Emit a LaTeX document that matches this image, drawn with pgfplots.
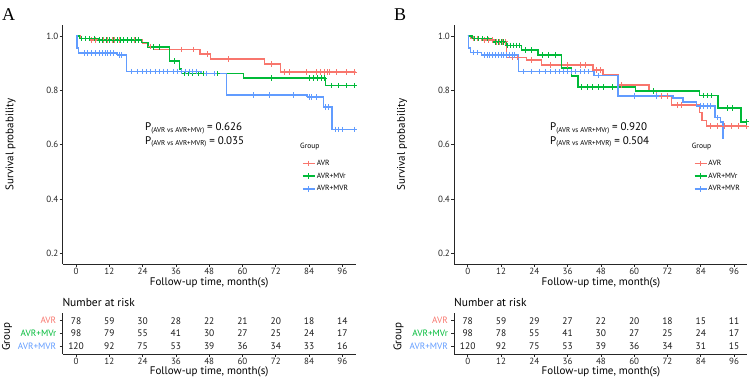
\documentclass[border=0pt]{standalone}
\usepackage{pgfplots}
\pgfplotsset{compat=1.18}
\usepackage{pgfplotstable}
\usepackage{fontspec}
\setmainfont{PT Sans}
\newfontfamily\letterfont{Liberation Serif}

\definecolor{avr}{HTML}{F8766D}
\definecolor{mvr}{HTML}{00BA38}
\definecolor{mvrr}{HTML}{619CFF}

\newcommand{\fs}[1]{\fontsize{#1bp}{#1bp}\selectfont}
\newcommand{\pval}[2]{P{\fs{7}\raisebox{-1.3bp}{(#1)}} = #2}

% number at risk (t, row, n); rows: 3 = AVR, 2 = AVR+MVr, 1 = AVR+MVR
\pgfplotstableread{
t g n
0 3 78
12 3 59
24 3 30
36 3 28
48 3 22
60 3 21
72 3 20
84 3 18
96 3 14
0 2 98
12 2 79
24 2 55
36 2 41
48 2 30
60 2 27
72 2 25
84 2 24
96 2 17
0 1 120
12 1 92
24 1 75
36 1 53
48 1 39
60 1 36
72 1 34
84 1 33
96 1 16
}\riskA
\pgfplotstableread{
t g n
0 3 78
12 3 59
24 3 29
36 3 27
48 3 22
60 3 20
72 3 18
84 3 15
96 3 11
0 2 98
12 2 78
24 2 55
36 2 41
48 2 30
60 2 27
72 2 25
84 2 24
96 2 17
0 1 120
12 1 92
24 1 75
36 1 53
48 1 39
60 1 36
72 1 34
84 1 31
96 1 15
}\riskB

\pgfplotsset{
  base/.style={
    scale only axis, width=293bp, anchor=south west,
    xmin=-4.8, xmax=100.8,
    axis lines*=left,
    axis line style={black!85, line width=0.8bp},
    tick align=outside, major tick length=3bp,
    tick style={black!85, line width=0.8bp},
    xtick={0,12,24,36,48,60,72,84,96},
    ticklabel style={font=\fs{9}, text=black!85},
    /pgf/number format/assume math mode=true,
  },
  km/.style={
    base, height=239.1bp,
    ymin=0.16, ymax=1.04,
    ytick={0.2,0.4,0.6,0.8,1.0},
    yticklabels={0.2,0.4,0.6,0.8,1.0},
    xticklabel style={yshift=3bp},
    yticklabel style={xshift=2bp},
    legend style={draw=none, fill=none, font=\fs{7.5}, inner sep=0pt,
      row sep=3.4bp, nodes={inner sep=1.2bp, text height=5.5bp, text depth=1.5bp},
      anchor=north west},
    legend cell align=left,
    legend image code/.code={\draw[mark repeat=2,mark phase=2,#1]
      plot coordinates {(0bp,0bp) (6bp,0bp) (12bp,0bp)};},
  },
  risk/.style={
    base, height=41bp,
    ymin=0.4, ymax=3.6,
    ytick={1,2,3},
    yticklabels={\textcolor{mvrr}{AVR+MVR},\textcolor{mvr}{AVR+MVr},\textcolor{avr}{AVR}},
    yticklabel style={font=\fs{9.2}},
    xticklabel style={yshift=2bp},
  },
  step/.style={const plot, line width=1.4bp, mark=none, forget plot},
  cens/.style={only marks, mark=+, mark size=2.7bp, mark options={line width=1bp}, forget plot},
  key/.style={line width=1.4bp, mark=+, mark size=2.7bp, mark options={line width=1bp}},
  counts/.style={only marks, mark=none, nodes near coords, point meta=explicit symbolic,
    nodes near coords align=center,
    every node near coord/.append style={font=\fs{9.5}, text=black!90, inner sep=0pt}},
}

\begin{document}
\begin{tikzpicture}
\useasboundingbox (0,0) rectangle (750bp,-381bp);

% ---------------- Panel A ----------------
\node[anchor=base west, inner sep=0] at (2bp,-20bp) {\letterfont\fs{18}A};
\begin{axis}[km, at={(62.7bp,-264.2bp)},
  legend style={at={(axis description cs:0.8167,0.4425)}}]
\addplot[step, avr] coordinates {(0,1) (1.5,0.99) (5,0.985) (24,0.974) (26,0.962) (28,0.951) (44.7,0.933) (48.4,0.915) (68,0.897) (73.6,0.867) (100.8,0.867)};
\addplot[step, mvr] coordinates {(0,1) (1.2,0.99) (8,0.985) (23.7,0.975) (26,0.96) (33.7,0.908) (37.2,0.878) (38,0.862) (60.4,0.845) (89.9,0.817) (100.8,0.817)};
\addplot[step, mvrr] coordinates {(0,1) (0.3,0.955) (1,0.937) (15,0.93) (18.3,0.869) (45,0.862) (54.3,0.783) (83.5,0.776) (89.2,0.738) (92.3,0.656) (100.8,0.656)};
% censored observations
\addplot[cens, avr] coordinates {(5.5,0.985) (7,0.985) (8.5,0.985) (10,0.985) (11.5,0.985) (13,0.985) (14,0.985) (15.5,0.985) (17,0.985) (18.5,0.985) (20,0.985) (21,0.985) (22.5,0.985) (27,0.962) (38,0.951) (42.3,0.951) (47.5,0.933) (55,0.915) (70.6,0.897) (75,0.867) (77,0.867) (83,0.867) (86.5,0.867) (88,0.867) (89.5,0.867) (90.5,0.867) (91.5,0.867) (94,0.867) (97.5,0.867) (100.3,0.867)};
\addplot[cens, mvr] coordinates {(2,0.99) (3.5,0.99) (5,0.99) (6.5,0.99) (8.5,0.985) (9.5,0.985) (11,0.985) (12,0.985) (13.5,0.985) (15,0.985) (16,0.985) (17,0.985) (18.5,0.985) (20,0.985) (21.5,0.985) (22.5,0.985) (28,0.96) (30,0.96) (35.5,0.908) (39,0.862) (40.5,0.862) (42,0.862) (44,0.862) (46,0.862) (51,0.862) (70.6,0.845) (84,0.845) (85.5,0.845) (87,0.845) (88.5,0.845) (89.5,0.845) (92,0.817) (94.5,0.817) (97.5,0.817) (100.3,0.817)};
\addplot[cens, mvrr] coordinates {(3,0.937) (4,0.937) (5.5,0.937) (7,0.937) (8.5,0.937) (9.5,0.937) (10.5,0.937) (11.5,0.937) (12.5,0.937) (13.5,0.937) (15.5,0.93) (16.5,0.93) (20,0.869) (22,0.869) (24,0.869) (25.5,0.869) (27,0.869) (28.5,0.869) (30,0.869) (31.5,0.869) (33,0.869) (35,0.869) (36.5,0.869) (38,0.869) (39.5,0.869) (41,0.869) (42,0.869) (43.5,0.869) (47,0.862) (50,0.862) (64,0.783) (69.8,0.783) (78.4,0.783) (84,0.776) (85,0.776) (86.5,0.776) (90,0.738) (91,0.738) (93.5,0.656) (94.5,0.656) (96,0.656) (100.3,0.656)};
\addlegendimage{key, avr}
\addlegendimage{key, mvr}
\addlegendimage{key, mvrr}
\legend{AVR, AVR+MVr, AVR+MVR}
\end{axis}
\node[rotate=90, font=\fs{11}] at (10.5bp,-144.6bp) {Survival probability};
\node[font=\fs{11}] at (209.2bp,-282.7bp) {Follow-up time, month(s)};
\node[anchor=west, font=\fs{11}, inner sep=0] at (145bp,-128.3bp) {\pval{AVR vs AVR+MVr}{0.626}};
\node[anchor=west, font=\fs{11}, inner sep=0] at (145bp,-141.7bp) {\pval{AVR vs AVR+MVR}{0.035}};
\node[anchor=west, font=\fs{7.5}, inner sep=0] at (300bp,-147bp) {Group};

\node[anchor=west, font=\fs{11.5}, inner sep=0] at (62.3bp,-302.7bp) {Number at risk};
\begin{axis}[risk, at={(62.7bp,-354bp)}]
\addplot[counts] table[x=t, y=g, meta=n] {\riskA};
\end{axis}
\node[rotate=90, font=\fs{11}] at (7bp,-336.7bp) {Group};
\node[font=\fs{11}] at (209.2bp,-372bp) {Follow-up time, month(s)};

% ---------------- Panel B ----------------
\node[anchor=base west, inner sep=0] at (394bp,-20bp) {\letterfont\fs{18}B};
\begin{axis}[km, at={(454.4bp,-264.2bp)},
  legend style={at={(axis description cs:0.8167,0.4425)}}]
\addplot[step, avr] coordinates {(0,1) (1,0.99) (5,0.985) (10,0.978) (14,0.92) (21.2,0.912) (26.6,0.893) (45.2,0.875) (48.8,0.856) (54.2,0.82) (65.4,0.797) (68,0.779) (73.5,0.746) (83.5,0.719) (84.5,0.69) (86,0.668) (100.8,0.668)};
\addplot[step, mvr] coordinates {(0,1) (1.5,0.99) (9,0.978) (14,0.966) (19.4,0.948) (25.4,0.93) (33.8,0.882) (37.4,0.852) (39.8,0.812) (60.5,0.797) (83.6,0.781) (90.2,0.735) (98.5,0.684) (100.8,0.684)};
\addplot[step, mvrr] coordinates {(0,1) (0.3,0.955) (1,0.939) (5,0.93) (18.2,0.869) (45.5,0.855) (54.1,0.779) (74,0.772) (77.6,0.757) (82.5,0.742) (89.1,0.70) (91.1,0.683) (92,0.623) (92.3,0.623)};
% censored observations
\addplot[cens, avr] coordinates {(2,0.99) (3.5,0.99) (6,0.985) (7.5,0.985) (9,0.985) (10.5,0.978) (11.5,0.978) (12.5,0.978) (13.5,0.978) (16,0.92) (18,0.92) (23,0.912) (30,0.893) (36,0.893) (40.5,0.893) (42.5,0.893) (46.5,0.875) (48,0.875) (55.5,0.82) (70,0.779) (72,0.779) (75.5,0.746) (77,0.746) (87.5,0.668) (90,0.668) (92.5,0.668) (95,0.668) (97.5,0.668) (100.3,0.668)};
\addplot[cens, mvr] coordinates {(2.5,0.99) (4,0.99) (5.5,0.99) (7,0.99) (10,0.978) (11,0.978) (12,0.978) (13,0.978) (14.5,0.966) (15.5,0.966) (16.5,0.966) (17.5,0.966) (18.5,0.966) (21,0.948) (23,0.948) (27,0.93) (29,0.93) (31.5,0.93) (41,0.812) (43,0.812) (45,0.812) (47,0.812) (49,0.812) (52,0.812) (66.8,0.797) (85,0.781) (86.5,0.781) (88,0.781) (93.8,0.735) (95.6,0.735) (100.3,0.684)};
\addplot[cens, mvrr] coordinates {(2,0.939) (3.5,0.939) (6,0.93) (7,0.93) (8,0.93) (9,0.93) (10,0.93) (11,0.93) (12,0.93) (13,0.93) (14,0.93) (15,0.93) (16,0.93) (17,0.93) (20,0.869) (23,0.869) (26,0.869) (28,0.869) (30,0.869) (31.5,0.869) (33,0.869) (34.5,0.869) (36,0.869) (37.5,0.869) (39,0.869) (40.5,0.869) (42,0.869) (43.5,0.869) (47,0.855) (60.2,0.779) (67.9,0.779) (84,0.742) (85,0.742) (86.5,0.742) (87.5,0.742) (90,0.70)};
\addlegendimage{key, avr}
\addlegendimage{key, mvr}
\addlegendimage{key, mvrr}
\legend{AVR, AVR+MVr, AVR+MVR}
\end{axis}
\node[rotate=90, font=\fs{11}] at (402bp,-144.6bp) {Survival probability};
\node[font=\fs{11}] at (601bp,-282.7bp) {Follow-up time, month(s)};
\node[anchor=west, font=\fs{11}, inner sep=0] at (550bp,-128.3bp) {\pval{AVR vs AVR+MVr}{0.920}};
\node[anchor=west, font=\fs{11}, inner sep=0] at (550bp,-141.7bp) {\pval{AVR vs AVR+MVR}{0.504}};
\node[anchor=west, font=\fs{7.5}, inner sep=0] at (691.7bp,-147bp) {Group};

\node[anchor=west, font=\fs{11.5}, inner sep=0] at (454bp,-302.7bp) {Number at risk};
\begin{axis}[risk, at={(454.4bp,-354bp)}]
\addplot[counts] table[x=t, y=g, meta=n] {\riskB};
\end{axis}
\node[rotate=90, font=\fs{11}] at (398.5bp,-336.7bp) {Group};
\node[font=\fs{11}] at (601bp,-372bp) {Follow-up time, month(s)};
\end{tikzpicture}
\end{document}
